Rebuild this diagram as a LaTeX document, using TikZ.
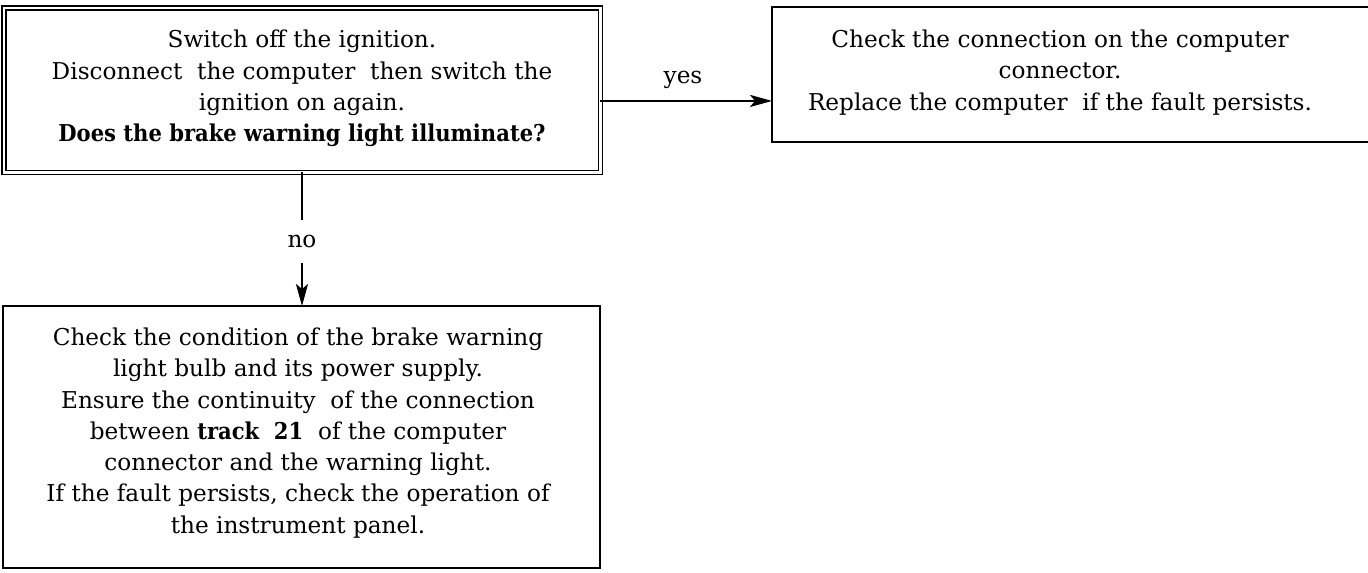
\documentclass[tikz,border=0pt]{standalone}
\usepackage{graphicx}
\usepackage{fontspec}
\setmainfont{DejaVu Serif}
\usetikzlibrary{arrows.meta}
\newcommand{\bfnarrow}[1]{\scalebox{0.91}[1]{\textbf{#1}}}
\begin{document}
\begin{tikzpicture}[x=0.02cm,y=-0.02cm,
 box/.style={draw, line width=1.4pt, inner sep=0pt, outer sep=0pt},
 dbox/.style={draw, double, double distance=0.045cm, line width=1pt, inner sep=0pt, outer sep=0pt},
 txt/.style={align=center, font=\fontsize{13.2}{17.8}\selectfont, inner sep=0pt},
 lnk/.style={line width=1.4pt},
 arr/.style={line width=1.4pt, -{Stealth[length=0.44cm,width=0.24cm,inset=0.1cm]}}]
\useasboundingbox (0,0) rectangle (1368,573);
\node[dbox, minimum width=11.93cm, minimum height=3.29cm] (b1) at (302.25,90.2) {};
\node[box, minimum width=11.96cm, minimum height=2.7cm] (b2) at (1071,74.5) {};
\node[box, minimum width=11.94cm, minimum height=5.24cm] (b3) at (301.5,437) {};
\node[txt] (t1) at (302,88.5) {Switch off the ignition.\\ Disconnect\ \ the computer\ \ then switch the\\ ignition on again.\\ \bfnarrow{Does the brake warning light illuminate?}};
\node[txt] (t2) at (1060,72.5) {Check the connection on the computer\\ connector.\\ Replace the computer\ \ if the fault persists.};
\node[txt] (t3) at (298,433) {Check the condition of the brake warning\\ light bulb and its power supply.\\ Ensure the continuity\ \ of the connection\\ between \bfnarrow{track\ \ 21}\ \ of the computer\\ connector and the warning light.\\ If the fault persists, check the operation of\\ the instrument panel.};
\node[txt] (yes) at (683,80) {yes};
\node[txt, minimum height=0.86cm] (no) at (302,241.5) {no};
\draw[arr] ([yshift=-0.215cm]b1.east) -- ([yshift=-0.215cm]b1.east -| b2.west);
\draw[lnk] (b1.south -| no) -- (no.north);
\draw[arr] (no.south) -- (b3.north -| no);
\end{tikzpicture}
\end{document}
